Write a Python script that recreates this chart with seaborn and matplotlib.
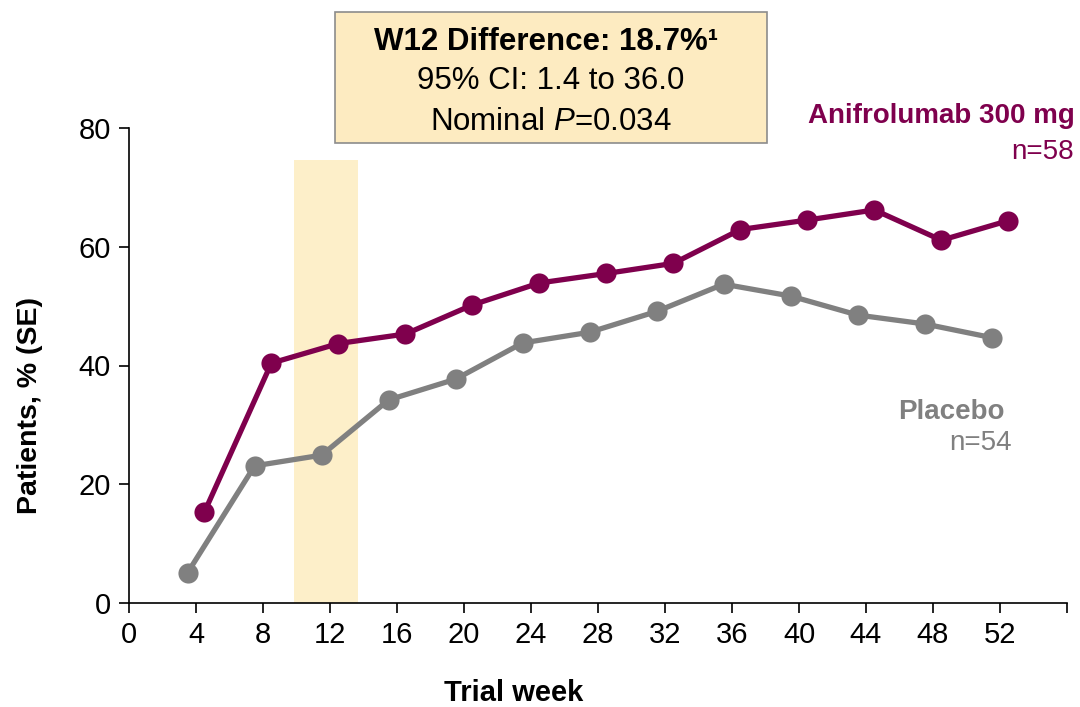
import numpy as np
import pandas as pd
import seaborn as sns
import matplotlib.pyplot as plt
from matplotlib.patches import Rectangle

# Valeurs
weeks = [4, 8, 12, 16, 20, 24, 28, 32, 36, 40, 44, 48, 52]
anifrolumab = [15.3, 40.4, 43.7, 45.3, 50.2, 53.9, 55.5, 57.2, 62.9, 64.5, 66.2, 61.1, 64.4]
placebo = [5.1, 23.1, 24.9, 34.2, 37.7, 43.8, 45.6, 49.1, 53.7, 51.7, 48.5, 47.0, 44.7]
groups = ["Anifrolumab 300 mg", "Placebo"]
n_labels = ["n=58", "n=54"]
box_lines = ["W12 Difference: 18.7%\u00b9", "95% CI: 1.4 to 36.0", "Nominal $P$=0.034"]
x_ticks = list(range(0, 57, 4))
x_ticklabels = [str(t) for t in x_ticks[:-1]] + [""]
y_ticks = [0, 20, 40, 60, 80]
band = (9.85, 13.7, 74.6)  # zone W12 surlignée

purple = "#7f004d"
grey = "#808080"

# decalage horizontal des deux courbes (dodge)
df = pd.concat([
    pd.DataFrame({"week": np.array(weeks) + 0.5, "pct": anifrolumab, "group": groups[0]}),
    pd.DataFrame({"week": np.array(weeks) - 0.5, "pct": placebo, "group": groups[1]}),
])

sns.set_style("ticks")
plt.rcParams["font.family"] = ["Liberation Sans", "DejaVu Sans"]
plt.rcParams["mathtext.fontset"] = "custom"
plt.rcParams["mathtext.rm"] = "Liberation Sans"
plt.rcParams["mathtext.it"] = "Liberation Sans:italic"
plt.rcParams["text.color"] = "black"
plt.rcParams["axes.labelcolor"] = "black"
plt.rcParams["xtick.color"] = "black"
plt.rcParams["ytick.color"] = "black"

fig = plt.figure(figsize=(10.8, 7.07), dpi=100)
ax = fig.add_axes([129 / 1080, 1 - 603 / 707, 938 / 1080, 475 / 707])

ax.axvspan(band[0], band[1], ymin=0, ymax=band[2] / 80, color="#fdefc9", lw=0, zorder=0)

sns.lineplot(data=df, x="week", y="pct", hue="group", palette=[purple, grey],
             marker="o", markersize=14.5, markeredgewidth=0, linewidth=3.8,
             legend=False, ax=ax, zorder=3)

ax.set_xlim(0, 56)
ax.set_ylim(0, 80)
ax.set_xticks(x_ticks)
ax.set_xticklabels(x_ticklabels)
ax.set_yticks(y_ticks)
ax.tick_params(labelsize=21, length=7, width=1.2, colors="black", pad=6)
for s in ["top", "right"]:
    ax.spines[s].set_visible(False)
for s in ["left", "bottom"]:
    ax.spines[s].set_linewidth(1.2)
    ax.spines[s].set_color("black")

ax.set_xlabel("Trial week", fontsize=21, fontweight="bold")
ax.xaxis.set_label_coords((514 - 129) / 938, -0.16)
ax.set_ylabel("Patients, % (SE)", fontsize=20.5, fontweight="bold")
ax.yaxis.set_label_coords(-0.092, 0.415)

# etiquettes des series
fig.text(1075 / 1080, 1 - 116 / 707, groups[0], color=purple, fontsize=20,
         fontweight="bold", ha="right", va="center")
fig.text(1074 / 1080, 1 - 152 / 707, n_labels[0], color=purple, fontsize=20,
         ha="right", va="center")
fig.text(1005 / 1080, 1 - 412 / 707, groups[1], color=grey, fontsize=20,
         fontweight="bold", ha="right", va="center")
fig.text(1012 / 1080, 1 - 443 / 707, n_labels[1], color=grey, fontsize=20,
         ha="right", va="center")

# encadre
fig.patches.append(Rectangle((335 / 1080, 1 - 143 / 707), 432 / 1080, 131 / 707,
                             transform=fig.transFigure, facecolor="#fdebc1",
                             edgecolor="#8c8c8c", linewidth=1.2, zorder=5))
fig.text(546 / 1080, 1 - 42 / 707, box_lines[0], fontsize=22.5, fontweight="bold",
         ha="center", va="center", zorder=6)
fig.text(551 / 1080, 1 - 81 / 707, box_lines[1], fontsize=22.5,
         ha="center", va="center", zorder=6)
fig.text(551 / 1080, 1 - 122 / 707, box_lines[2], fontsize=22.5,
         ha="center", va="center", zorder=6)

fig.savefig("out.png", dpi=100)
